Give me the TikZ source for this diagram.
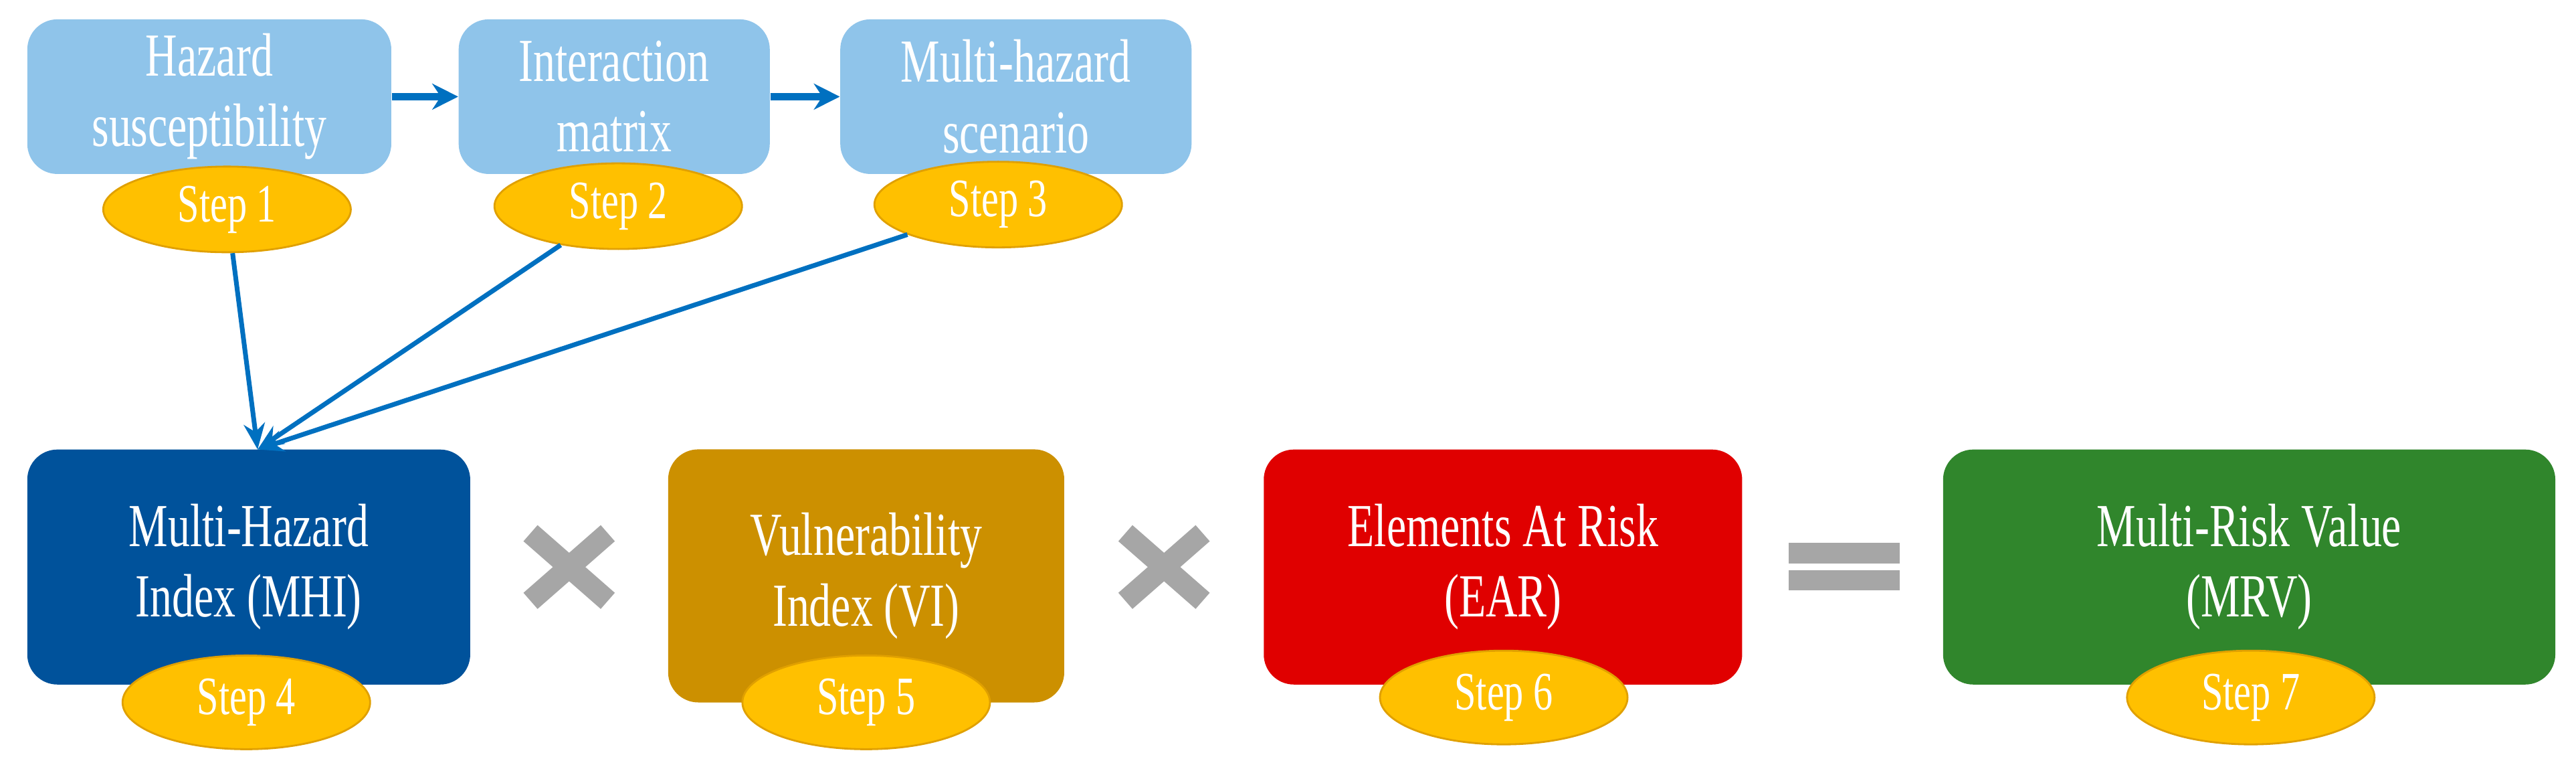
\documentclass[tikz,border=0pt]{standalone}
\usepackage{fontspec}
\setmainfont{Liberation Serif}[FakeStretch=0.72]
\usetikzlibrary{shapes.geometric,arrows.meta}
\definecolor{lblue}{HTML}{8FC4EA}
\definecolor{dblue}{HTML}{00529B}
\definecolor{gold}{HTML}{CC9000}
\definecolor{ered}{HTML}{E00000}
\definecolor{egreen}{HTML}{30862C}
\definecolor{stepy}{HTML}{FFC000}
\definecolor{stepb}{HTML}{E0A000}
\definecolor{arr}{HTML}{0070C0}
\definecolor{opg}{HTML}{A6A6A6}
\tikzset{
  box/.style={rectangle,rounded corners=0.45cm,draw=none,text=white,align=center,font=\fontsize{26}{30}\selectfont},
  stp/.style={ellipse,fill=stepy,draw=stepb,line width=0.8pt,text=white,minimum width=3.7cm,minimum height=1.28cm,inner sep=0pt,font=\fontsize{23}{25}\selectfont},
  con/.style={arr,line width=2pt,-{Stealth[length=11pt,width=9pt]}},
  tcon/.style={arr,line width=3pt,-{Stealth[length=11pt,width=11pt]}},
  op/.style={opg,line width=0.32cm},
}
\begin{document}
\begin{tikzpicture}[x=0.02407cm,y=-0.02407cm]
\useasboundingbox (0,0) rectangle (1600,476.1);
% top boxes
\node[box,fill=lblue,minimum width=5.44cm,minimum height=2.31cm] (b1) at (130,60) {Hazard\\susceptibility};
\node[box,fill=lblue,minimum width=4.65cm,minimum height=2.31cm] (b2) at (381.5,60) {Interaction\\matrix};
\node[box,fill=lblue,minimum width=5.25cm,minimum height=2.31cm] (b3) at (631,60) {Multi-hazard\\scenario};
\draw[tcon] (b1) -- (b2);
\draw[tcon] (b2) -- (b3);
\node[stp] (s1) at (141,130) {Step 1};
\node[stp] (s2) at (384,128) {Step 2};
\node[stp] (s3) at (620,127) {Step 3};
% bottom boxes
\node[box,fill=dblue,minimum width=6.62cm,minimum height=3.51cm] (mhi) at (154.5,352) {Multi-Hazard\\Index (MHI)};
\node[box,fill=gold,minimum width=5.92cm,minimum height=3.78cm] (vi) at (538,357.5) {Vulnerability\\Index (VI)};
\node[box,fill=ered,minimum width=7.15cm,minimum height=3.51cm] (ear) at (933.5,352) {Elements At Risk\\(EAR)};
\node[box,fill=egreen,minimum width=9.15cm,minimum height=3.51cm] (mrv) at (1397,352) {Multi-Risk Value\\(MRV)};
\coordinate (tip) at (160,279);
\draw[con] (s1) -- (tip);
\draw[con] (s2) -- (tip);
\draw[con] (s3) -- (tip);
\node[stp,minimum width=3.7cm,minimum height=1.4cm] (s4) at (153,436) {Step 4};
\node[stp,minimum width=3.7cm,minimum height=1.4cm] (s5) at (538,436) {Step 5};
\node[stp,minimum width=3.7cm,minimum height=1.4cm] (s6) at (934,433) {Step 6};
\node[stp,minimum width=3.7cm,minimum height=1.4cm] (s7) at (1398,433) {Step 7};
% operators
\coordinate (x1) at (353.5,352);
\coordinate (x2) at (723,352);
\foreach \c in {x1,x2}{
  \draw[op] ([shift={(-24,-21)}]\c) -- ([shift={(24,21)}]\c);
  \draw[op] ([shift={(-24,21)}]\c) -- ([shift={(24,-21)}]\c);
}
\coordinate (eq) at (1145.5,352);
\fill[opg] ([shift={(-34.5,-15)}]eq) rectangle ([shift={(34.5,-2)}]eq);
\fill[opg] ([shift={(-34.5,2)}]eq) rectangle ([shift={(34.5,14.5)}]eq);
\end{tikzpicture}
\end{document}
